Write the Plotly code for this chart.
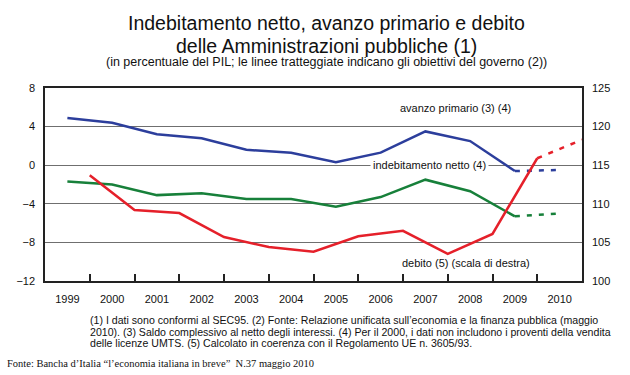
import plotly.graph_objects as go

years = [1999, 2000, 2001, 2002, 2003, 2004, 2005, 2006, 2007, 2008, 2009]
target_years = [2009, 2010]
avanzo = [4.9, 4.4, 3.2, 2.8, 1.6, 1.3, 0.3, 1.3, 3.5, 2.5, -0.6]
avanzo_target = [-0.6, -0.5]
indebitamento = [-1.7, -2.0, -3.1, -2.9, -3.5, -3.5, -4.3, -3.3, -1.5, -2.7, -5.3]
indebitamento_target = [-5.3, -5.0]
debito = [113.7, 109.2, 108.8, 105.7, 104.4, 103.8, 105.8, 106.5, 103.5, 106.1, 115.9]
debito_target = [115.9, 118.3]
tick_years = list(range(1999, 2011))

BLUE = "#2c3e9c"
GREEN = "#17803a"
RED = "#e5202a"
FONT = "Liberation Sans"

# debt is an end-of-year stock: drawn at the year boundary
debt_x = [y + 0.5 for y in years]
debt_target_x = [y + 0.5 for y in target_years]

fig = go.Figure()
fig.add_trace(go.Scatter(x=years, y=avanzo, mode="lines", line=dict(color=BLUE, width=2.5)))
fig.add_trace(go.Scatter(x=target_years, y=avanzo_target, mode="lines",
                         line=dict(color=BLUE, width=2.5, dash="5px,7px")))
fig.add_trace(go.Scatter(x=years, y=indebitamento, mode="lines", line=dict(color=GREEN, width=2.5)))
fig.add_trace(go.Scatter(x=target_years, y=indebitamento_target, mode="lines",
                         line=dict(color=GREEN, width=2.5, dash="5px,7px")))
fig.add_trace(go.Scatter(x=debt_x, y=debito, mode="lines", yaxis="y2",
                         line=dict(color=RED, width=2.5)))
fig.add_trace(go.Scatter(x=debt_target_x, y=debito_target, mode="lines", yaxis="y2",
                         line=dict(color=RED, width=2.5, dash="5px,7px")))

annotations = [
    dict(text="Indebitamento netto, avanzo primario e debito", x=0.525, y=1.335,
         font=dict(size=19.5)),
    dict(text="delle Amministrazioni pubbliche (1)", x=0.525, y=1.218, font=dict(size=19.5)),
    dict(text="(in percentuale del PIL; le linee tratteggiate indicano gli obiettivi del governo (2))",
         x=0.525, y=1.135, font=dict(size=12.5)),
    dict(text="(1) I dati sono conformi al SEC95. (2) Fonte: Relazione unificata sull\u2019economia e la finanza pubblica (maggio",
         x=0.08, y=-0.202, xanchor="left", font=dict(size=10.6)),
    dict(text="2010). (3) Saldo complessivo al netto degli interessi. (4) Per il 2000, i dati non includono i proventi della vendita",
         x=0.08, y=-0.262, xanchor="left", font=dict(size=10.6)),
    dict(text="delle licenze UMTS. (5) Calcolato in coerenza con il Regolamento UE n. 3605/93.",
         x=0.08, y=-0.321, xanchor="left", font=dict(size=10.6)),
    dict(text="Fonte: Bancha d\u2019Italia \u201cl\u2019economia italiana in breve\u201d  N.37 maggio 2010",
         x=-0.0745, y=-0.425, xanchor="left", font=dict(size=10.5, family="Liberation Serif")),
]
for a in annotations:
    a.update(xref="paper", yref="paper", showarrow=False, yanchor="middle")
    a.setdefault("xanchor", "center")

annotations += [
    dict(text="avanzo primario (3) (4)", x=2007.67, y=5.9, xref="x", yref="y",
         showarrow=False, font=dict(size=11)),
    dict(text="indebitamento netto (4)", x=2007.09, y=0, xref="x", yref="y",
         showarrow=False, font=dict(size=11), bgcolor="white", borderpad=2),
    dict(text="debito (5) (scala di destra)", x=2007.9, y=-10.1, xref="x", yref="y",
         showarrow=False, font=dict(size=11)),
]

fig.update_layout(
    width=630, height=375,
    margin=dict(l=45, r=48, t=88, b=94),
    paper_bgcolor="white", plot_bgcolor="white",
    showlegend=False,
    font=dict(family=FONT, size=11, color="#111111"),
    annotations=annotations,
    xaxis=dict(
        range=[1998.5, 2010.5], tickmode="array", tickvals=tick_years,
        ticks="", showgrid=False, zeroline=False,
        showline=True, linecolor="#222222", linewidth=1.5, mirror=True,
        ticklabelstandoff=7,
        minor=dict(tickmode="array", tickvals=[y + 0.5 for y in tick_years[:-1]],
                   ticks="inside", ticklen=7, tickcolor="#222222", tickwidth=1.5,
                   showgrid=False),
    ),
    yaxis=dict(
        range=[-12, 8], tickmode="array", tickvals=[-12, -8, -4, 0, 4, 8],
        showgrid=True, gridcolor="#6f6f6f", gridwidth=1, zeroline=False,
        showline=True, linecolor="#222222", linewidth=1.5, mirror=True,
        ticks="", ticklabelstandoff=6,
    ),
    yaxis2=dict(
        range=[100, 125], tickmode="array", tickvals=[100, 105, 110, 115, 120, 125],
        overlaying="y", side="right", showgrid=False, zeroline=False,
        showline=False, ticks="", ticklabelstandoff=9,
    ),
)

# remove the browser's default 8px body margin so the figure sits at the page origin
fig.write_html("out.html", config={"displayModeBar": False},
               post_script="document.body.style.margin='0';")
